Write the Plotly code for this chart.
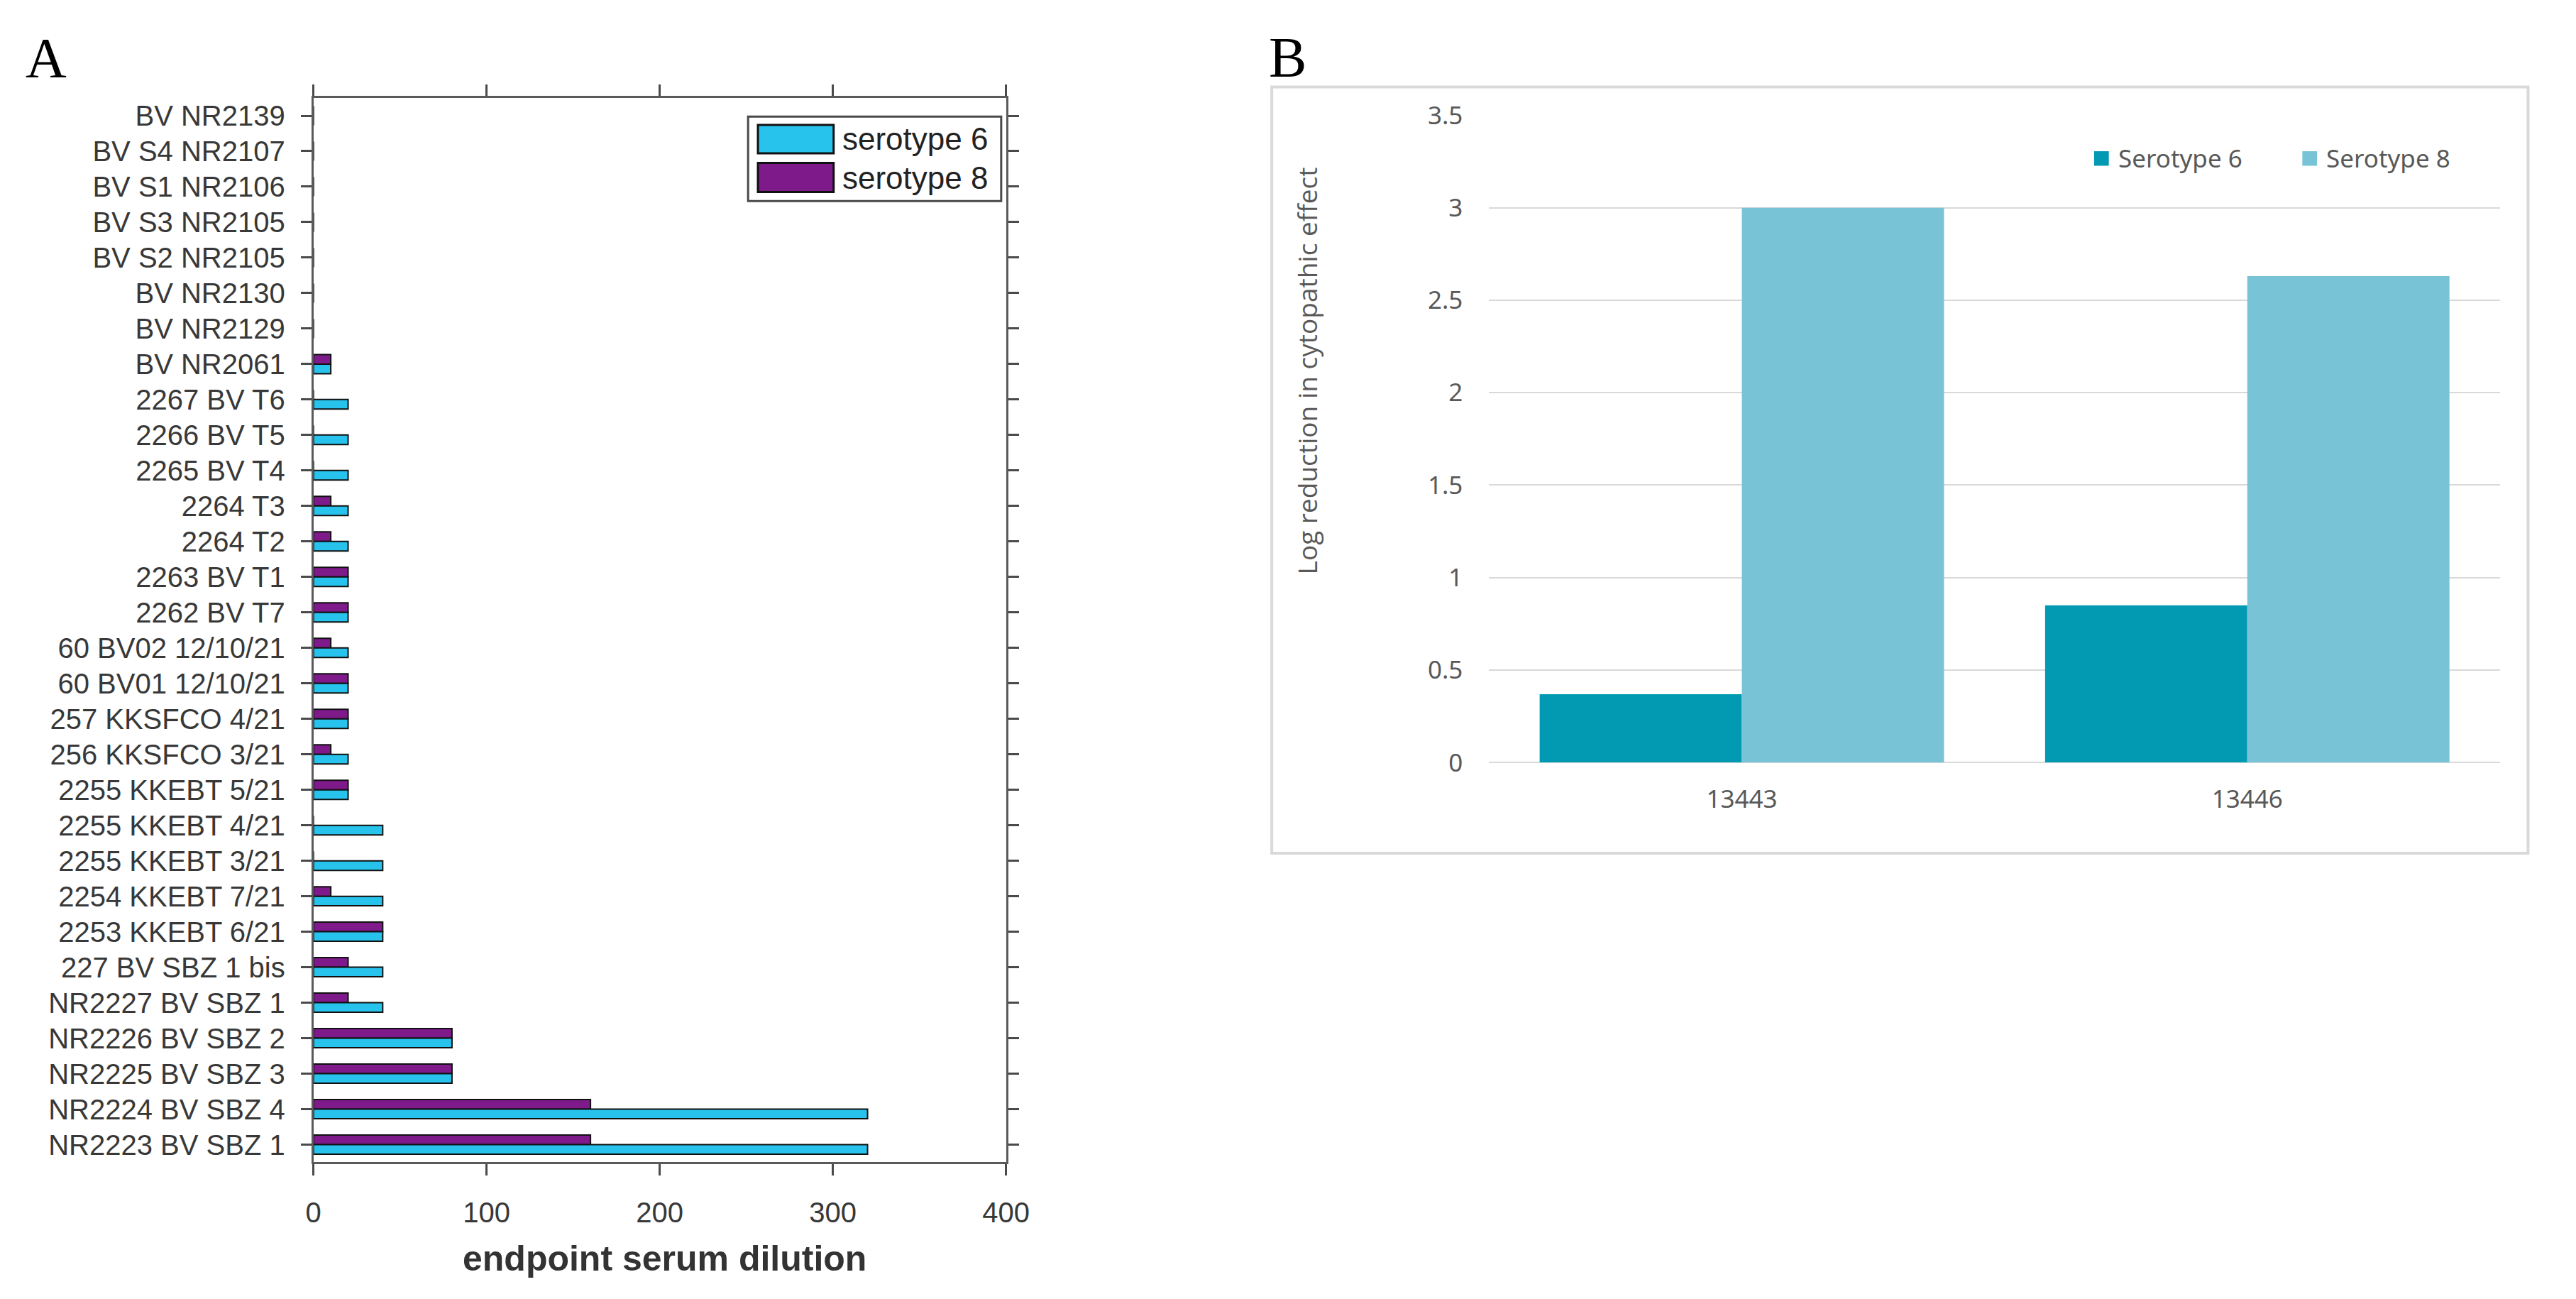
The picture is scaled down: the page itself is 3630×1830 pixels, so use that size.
import plotly.graph_objects as go

W, H = 3630, 1830

# ---------------- Panel A data (top to bottom) ----------------
strains = [
    "BV NR2139", "BV S4 NR2107", "BV S1 NR2106", "BV S3 NR2105", "BV S2 NR2105",
    "BV NR2130", "BV NR2129", "BV NR2061", "2267 BV T6", "2266 BV T5",
    "2265 BV T4", "2264 T3", "2264 T2", "2263 BV T1", "2262 BV T7",
    "60 BV02 12/10/21", "60 BV01 12/10/21", "257 KKSFCO 4/21", "256 KKSFCO 3/21",
    "2255 KKEBT 5/21", "2255 KKEBT 4/21", "2255 KKEBT 3/21", "2254 KKEBT 7/21",
    "2253 KKEBT 6/21", "227 BV SBZ 1 bis", "NR2227 BV SBZ 1", "NR2226 BV SBZ 2",
    "NR2225 BV SBZ 3", "NR2224 BV SBZ 4", "NR2223 BV SBZ 1",
]
sero6_dilution = [0, 0, 0, 0, 0, 0, 0, 10, 20, 20, 20, 20, 20, 20, 20,
                  20, 20, 20, 20, 20, 40, 40, 40, 40, 40, 40, 80, 80, 320, 320]
sero8_dilution = [0, 0, 0, 0, 0, 0, 0, 10, 0, 0, 0, 10, 10, 20, 20,
                  10, 20, 20, 10, 20, 0, 0, 10, 40, 20, 20, 80, 80, 160, 160]
x_ticks_A = [0, 100, 200, 300, 400]

# ---------------- Panel B data ----------------
isolates = ["13443", "13446"]
sero6_logred = [0.37, 0.85]
sero8_logred = [3.0, 2.63]
y_ticks_B = [0, 0.5, 1, 1.5, 2, 2.5, 3, 3.5]

CYAN = "#27c3ec"
PURPLE = "#7f1a8b"
TEAL = "#029ab2"
LIGHTTEAL = "#79c3d7"


def px(x):
    return x / W


def py(y):
    return 1 - y / H


fig = go.Figure()

# Panel A bars
fig.add_trace(go.Bar(
    y=strains, x=sero8_dilution, orientation="h", name="serotype 8",
    marker=dict(color=PURPLE, line=dict(color="#111111", width=2)),
    width=0.27, offset=-0.27, xaxis="x", yaxis="y", showlegend=False,
))
fig.add_trace(go.Bar(
    y=strains, x=sero6_dilution, orientation="h", name="serotype 6",
    marker=dict(color=CYAN, line=dict(color="#111111", width=2)),
    width=0.27, offset=0.0, xaxis="x", yaxis="y", showlegend=False,
))

# Panel B bars
fig.add_trace(go.Bar(
    x=isolates, y=sero6_logred, name="Serotype 6",
    marker=dict(color=TEAL, line=dict(width=0)),
    xaxis="x2", yaxis="y2", showlegend=False,
))
fig.add_trace(go.Bar(
    x=isolates, y=sero8_logred, name="Serotype 8",
    marker=dict(color=LIGHTTEAL, line=dict(width=0)),
    xaxis="x2", yaxis="y2", showlegend=False,
))

axA_font = dict(family="Liberation Sans, Arial, sans-serif", size=40, color="#383838")
axB_font = dict(family="Noto Sans, sans-serif", size=35, color="#595959")

fig.update_layout(
    width=W, height=H,
    margin=dict(l=0, r=0, t=0, b=0),
    paper_bgcolor="white", plot_bgcolor="white",
    barmode="group", bargap=0.2, bargroupgap=0,
    xaxis=dict(
        domain=[px(436), px(1424)], anchor="y",
        range=[0, 400], tickvals=x_ticks_A,
        showgrid=False, zeroline=False,
        showline=True, linecolor="#5a5a5a", linewidth=3, mirror="ticks",
        ticks="outside", ticklen=16, tickwidth=3, tickcolor="#4a4a4a",
        tickfont=axA_font, ticklabelstandoff=18,
    ),
    yaxis=dict(
        domain=[py(1655), py(116)], anchor="x",
        type="category", categoryorder="array", categoryarray=strains,
        range=[29.5, -0.5],
        showgrid=False, zeroline=False,
        showline=True, linecolor="#5a5a5a", linewidth=3, mirror="ticks",
        ticks="outside", ticklen=15, tickwidth=3, tickcolor="#4a4a4a",
        tickfont=axA_font, ticklabelstandoff=14,
    ),
    xaxis2=dict(
        domain=[px(2113), px(3555)], anchor="y2",
        type="category", range=[-0.5, 1.5],
        showgrid=False, zeroline=False, showline=False, ticks="",
        tickfont=axB_font, ticklabelstandoff=28,
    ),
    yaxis2=dict(
        domain=[py(1077), py(141)], anchor="x2",
        range=[0, 3.5], tickvals=y_ticks_B,
        ticktext=[f"{v:g}" for v in y_ticks_B],
        showgrid=True, gridcolor="#d9d9d9", gridwidth=2,
        zeroline=True, zerolinecolor="#d9d9d9", zerolinewidth=2,
        showline=False, ticks="",
        tickfont=axB_font, ticklabelstandoff=36,
    ),
)

shapes = []
annotations = []

# Panel labels
annotations.append(dict(text="A", x=px(55), y=py(58), xref="paper", yref="paper",
                        showarrow=False, xanchor="center", yanchor="middle",
                        font=dict(family="Liberation Serif, Times New Roman, serif", size=80, color="black")))
annotations.append(dict(text="B", x=px(1826), y=py(57), xref="paper", yref="paper",
                        showarrow=False, xanchor="center", yanchor="middle",
                        font=dict(family="Liberation Serif, Times New Roman, serif", size=80, color="black")))

# Panel A x-axis title
annotations.append(dict(text="<b>endpoint serum dilution</b>", x=px(937), y=py(1794),
                        xref="paper", yref="paper", showarrow=False,
                        xanchor="center", yanchor="middle",
                        font=dict(family="Liberation Sans, Arial, sans-serif", size=50, color="#333333")))

# Panel A legend (box + swatches + text)
shapes.append(dict(type="rect", xref="paper", yref="paper",
                   x0=px(1056), x1=px(1417), y0=py(265), y1=py(143),
                   line=dict(color="#4a4a4a", width=3), fillcolor="white", layer="above"))
legendA = [("serotype 6", CYAN, 155, 196), ("serotype 8", PURPLE, 210, 252)]
for name, col, y0, y1 in legendA:
    shapes.append(dict(type="rect", xref="paper", yref="paper",
                       x0=px(1070), x1=px(1178), y0=py(y1), y1=py(y0),
                       line=dict(color="#111111", width=3), fillcolor=col, layer="above"))
    annotations.append(dict(text=name, x=px(1188), y=py((y0 + y1) / 2), xref="paper", yref="paper",
                            showarrow=False, xanchor="left", yanchor="middle",
                            font=dict(family="Liberation Sans, Arial, sans-serif", size=44, color="#222222")))

# Panel B chart-area border
shapes.append(dict(type="rect", xref="paper", yref="paper",
                   x0=px(1803), x1=px(3595), y0=py(1208), y1=py(100),
                   line=dict(color="#d9d9d9", width=4), fillcolor="rgba(0,0,0,0)", layer="below"))

# Panel B y-axis title
annotations.append(dict(text="Log reduction in cytopathic effect", x=px(1853), y=py(511),
                        xref="paper", yref="paper", showarrow=False, textangle=-90,
                        xanchor="center", yanchor="middle",
                        font=dict(family="Open Sans, sans-serif", size=37, color="#595959")))

# Panel B legend
legendB = [("Serotype 6", TEAL, 2976), ("Serotype 8", LIGHTTEAL, 3273)]
for name, col, x0 in legendB:
    shapes.append(dict(type="rect", xref="paper", yref="paper",
                       x0=px(x0), x1=px(x0 + 21), y0=py(214), y1=py(193),
                       line=dict(width=0), fillcolor=col, layer="above"))
    annotations.append(dict(text=name, x=px(x0 + 32), y=py(203), xref="paper", yref="paper",
                            showarrow=False, xanchor="left", yanchor="middle",
                            font=dict(family="Noto Sans, sans-serif", size=35, color="#595959")))

fig.update_layout(shapes=shapes, annotations=annotations)

fig.write_html("out.html", config={"displayModeBar": False},
               post_script="document.body.style.margin='0';document.body.style.overflow='hidden';")
